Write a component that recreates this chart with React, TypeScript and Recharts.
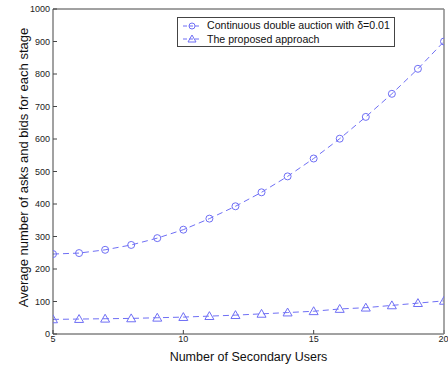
import { LineChart, Line, XAxis, YAxis, Label } from 'recharts'

// Number of secondary users on the x axis
const users = [5, 6, 7, 8, 9, 10, 11, 12, 13, 14, 15, 16, 17, 18, 19, 20]
// Continuous double auction with delta = 0.01
const cdaValues = [246, 249, 259, 274, 295, 321, 355, 393, 436, 485, 540, 601, 668, 739, 816, 900]
// The proposed approach
const proposedValues = [45, 46, 47, 48, 50, 52, 55, 58, 62, 66, 70, 77, 81, 88, 95, 102]

const xTicks = [5, 10, 15, 20]
const yTicks = [0, 100, 200, 300, 400, 500, 600, 700, 800, 900, 1000]

const seriesNames = ['Continuous double auction with \u03b4=0.01', 'The proposed approach']

const data = users.map((u, i) => ({ users: u, cda: cdaValues[i], proposed: proposedValues[i] }))

const BLUE = '#6f6ff5'
const AXIS = '#444'
const FONT = '"Liberation Sans", Arial, sans-serif'

function Circle(props: any) {
  const { cx, cy } = props
  if (cx == null || cy == null) return null
  return <circle cx={cx} cy={cy} r={3.5} fill="none" stroke={BLUE} strokeWidth={1} />
}

function Triangle(props: any) {
  const { cx, cy } = props
  if (cx == null || cy == null) return null
  const s = 4.5
  return (
    <path
      d={`M${cx},${cy - s} L${cx + s},${cy + s * 0.75} L${cx - s},${cy + s * 0.75} Z`}
      fill="none"
      stroke={BLUE}
      strokeWidth={1}
    />
  )
}

function LegendBox() {
  const markers = [
    <circle key="c" cx={9} cy={6} r={3} fill="none" stroke={BLUE} />,
    <path key="t" d="M9,2 L13,9 L5,9 Z" fill="none" stroke={BLUE} />,
  ]
  return (
    <div
      style={{
        position: 'absolute',
        left: 177,
        top: 17,
        width: 218,
        height: 30,
        border: `1px solid ${AXIS}`,
        background: '#fff',
        fontFamily: FONT,
        fontSize: 10.6,
        color: '#111',
        boxSizing: 'border-box',
        paddingTop: 1,
        whiteSpace: 'nowrap',
      }}
    >
      {seriesNames.map((name, i) => (
        <div key={name} style={{ display: 'flex', alignItems: 'center', height: 13.5, lineHeight: '13px' }}>
          <svg width={18} height={12} style={{ marginLeft: 5, marginRight: 6, flexShrink: 0 }}>
            <line x1={0} y1={6} x2={18} y2={6} stroke={BLUE} strokeDasharray="4 2" />
            {markers[i]}
          </svg>
          <span>{name}</span>
        </div>
      ))}
    </div>
  )
}

export default function App() {
  const tickStyle = { fontSize: 9, fill: '#222', fontFamily: FONT }
  return (
    <div style={{ position: 'absolute', left: 0, top: 0, width: 448, height: 365, background: '#fff' }}>
      <LineChart width={448} height={365} data={data} margin={{ top: 8, right: 3, bottom: 0, left: 0 }}>
        <XAxis
          dataKey="users"
          type="number"
          domain={[5, 20]}
          ticks={xTicks}
          allowDataOverflow
          height={31}
          tickSize={-4}
          tickMargin={6}
          stroke={AXIS}
          tick={tickStyle}
        >
          <Label
            value="Number of Secondary Users"
            position="insideBottom"
            offset={4}
            style={{ fontSize: 12.5, fill: '#111', fontFamily: FONT }}
          />
        </XAxis>
        <XAxis
          xAxisId="top"
          orientation="top"
          dataKey="users"
          type="number"
          domain={[5, 20]}
          ticks={xTicks}
          allowDataOverflow
          height={1}
          tickSize={-4}
          tick={false}
          stroke={AXIS}
        />
        <YAxis
          domain={[0, 1000]}
          ticks={yTicks}
          width={53}
          tickSize={-4}
          tickMargin={7}
          stroke={AXIS}
          tick={tickStyle}
          interval={0}
        >
          <Label
            content={({ viewBox }: any) => {
              const cy = viewBox.y + viewBox.height / 2 - 4
              return (
                <text
                  x={23}
                  y={cy}
                  transform={`rotate(-90, 23, ${cy})`}
                  textAnchor="middle"
                  dominantBaseline="central"
                  style={{ fontSize: 13, fill: '#111', fontFamily: FONT }}
                >
                  Average number of asks and bids for each stage
                </text>
              )
            }}
          />
        </YAxis>
        <YAxis
          yAxisId="right"
          orientation="right"
          domain={[0, 1000]}
          ticks={yTicks}
          allowDataOverflow
          width={1}
          tickSize={-4}
          tick={false}
          stroke="#888"
          strokeWidth={1.5}
          interval={0}
        />
        <Line
          dataKey="cda"
          stroke={BLUE}
          strokeWidth={1}
          strokeDasharray="6 4"
          dot={<Circle />}
          isAnimationActive={false}
        />
        <Line
          dataKey="proposed"
          xAxisId="top"
          yAxisId="right"
          stroke={BLUE}
          strokeWidth={1}
          strokeDasharray="6 4"
          dot={<Triangle />}
          isAnimationActive={false}
        />
      </LineChart>
      <LegendBox />
    </div>
  )
}
